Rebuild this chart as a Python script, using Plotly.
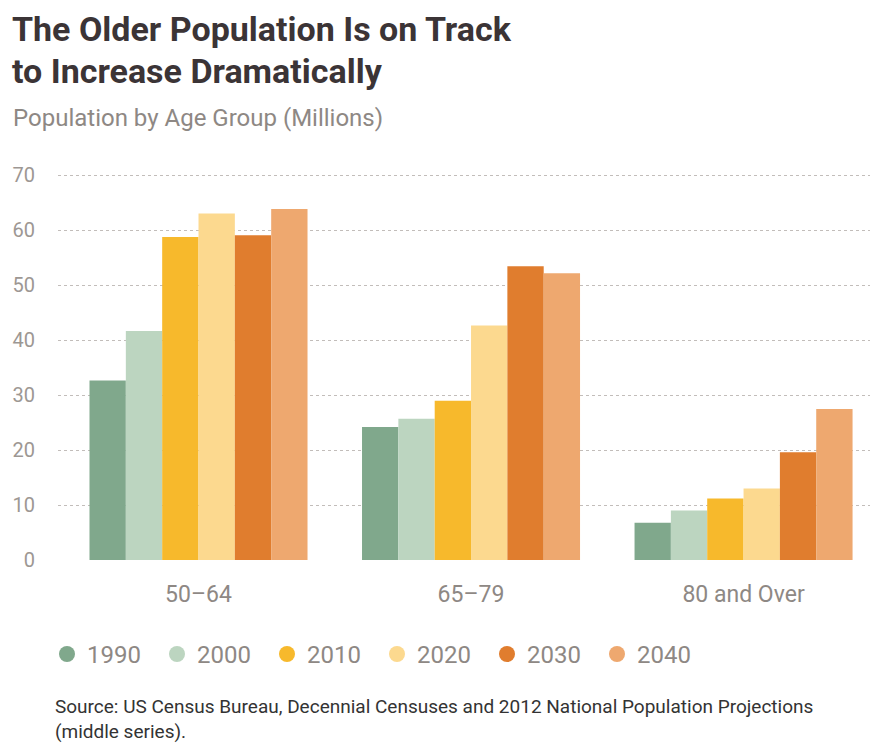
import plotly.graph_objects as go

categories = ["50–64", "65–79", "80 and Over"]
years = ["1990", "2000", "2010", "2020", "2030", "2040"]
values = {
    "1990": [32.7, 24.2, 6.8],
    "2000": [41.7, 25.7, 9.0],
    "2010": [58.8, 29.0, 11.2],
    "2020": [63.1, 42.7, 13.0],
    "2030": [59.1, 53.5, 19.6],
    "2040": [63.9, 52.2, 27.5],
}
colors = ["#80a88c", "#bcd5c0", "#f7b92c", "#fcd98f", "#e07d2e", "#eea86f"]
y_ticks = [0, 10, 20, 30, 40, 50, 60, 70]

W, H = 874, 746
L, R, T, B = 58, 4, 170, 185.5
pw, ph = W - L - R, H - T - B

def px(x):
    return (x - L) / pw

def py(y):
    return (H - B - y) / ph

FONT = "Roboto, 'Open Sans', sans-serif"
TITLE_COLOR = "#3b3436"

fig = go.Figure()
for yr, c in zip(years, colors):
    fig.add_trace(go.Bar(x=categories, y=values[yr], name=yr, marker_color=c,
                         marker_line_width=0, showlegend=False))
    fig.add_trace(go.Scatter(x=[None], y=[None], mode="markers", name=yr,
                             marker=dict(symbol="circle", size=17, color=c)))

fig.update_layout(
    width=W, height=H,
    margin=dict(l=L, r=R, t=T, b=B),
    paper_bgcolor="white", plot_bgcolor="white",
    barmode="group", bargap=0.2, bargroupgap=0,
    font=dict(family=FONT, color="#9d9793"),
    xaxis=dict(
        type="category",
        range=[-0.5156, 2.464],
        showgrid=False, showline=False, zeroline=False, ticks="",
        tickfont=dict(size=23, color="#8e8884"),
        ticklabelstandoff=18,
    ),
    yaxis=dict(
        range=[0, 71],
        tickvals=y_ticks,
        showgrid=True, gridcolor="#c2bdba", gridwidth=1.2, griddash="dot",
        zeroline=False, showline=False, ticks="",
        tickfont=dict(size=20, color="#9d9793"),
        ticklabelstandoff=22,
    ),
    legend=dict(
        orientation="h",
        x=px(47), xanchor="left",
        y=py(655), yanchor="middle",
        entrywidth=65, entrywidthmode="pixels",
        itemwidth=30,
        font=dict(size=24, color="#8e8884"),
        bgcolor="rgba(0,0,0,0)",
    ),
    annotations=[
        dict(text="<b>The Older Population Is on Track</b>", xref="paper", yref="paper",
             x=px(10), y=py(29), xanchor="left", yanchor="middle", showarrow=False,
             font=dict(family=FONT, size=34, color=TITLE_COLOR)),
        dict(text="<b>to Increase Dramatically</b>", xref="paper", yref="paper",
             x=px(10), y=py(71), xanchor="left", yanchor="middle", showarrow=False,
             font=dict(family=FONT, size=34, color=TITLE_COLOR)),
        dict(text="Population by Age Group (Millions)", xref="paper", yref="paper",
             x=px(11), y=py(118), xanchor="left", yanchor="middle", showarrow=False,
             font=dict(family=FONT, size=24, color="#8e8884")),
        dict(text="Source: US Census Bureau, Decennial Censuses and 2012 National Population Projections<br>(middle series).",
             xref="paper", yref="paper", x=px(53), y=py(694), xanchor="left", yanchor="top",
             align="left", showarrow=False,
             font=dict(family=FONT, size=19, color="#333333")),
    ],
)

fig.write_html("out.html")
